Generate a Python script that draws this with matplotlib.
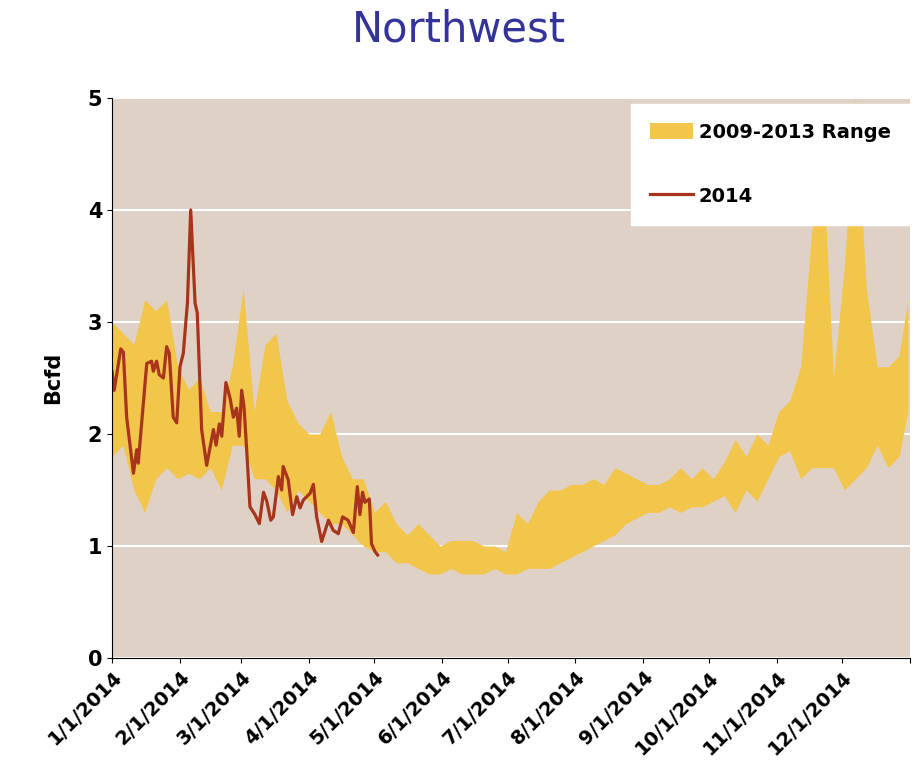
import numpy as np
import pandas as pd
import matplotlib
matplotlib.use('Agg')
import matplotlib.pyplot as plt
import matplotlib.dates as mdates

# 2009-2013 range, every 5 days from 1/1/2014
band_days = list(range(0, 365, 5)) + [364]
band_low = [1.8, 1.9, 1.5, 1.3, 1.6, 1.7, 1.6, 1.65, 1.6, 1.7, 1.5, 1.9, 1.9, 1.6, 1.6,
            1.5, 1.3, 1.5, 1.4, 1.3, 1.2, 1.2, 1.1, 1.0, 0.95, 0.95, 0.85, 0.85, 0.8,
            0.75, 0.75, 0.8, 0.75, 0.75, 0.75, 0.8, 0.75, 0.75, 0.8, 0.8, 0.8, 0.85,
            0.9, 0.95, 1.0, 1.05, 1.1, 1.2, 1.25, 1.3, 1.3, 1.35, 1.3, 1.35, 1.35, 1.4,
            1.45, 1.3, 1.5, 1.4, 1.6, 1.8, 1.85, 1.6, 1.7, 1.7, 1.7, 1.5, 1.6, 1.7,
            1.9, 1.7, 1.8, 2.2]
band_high = [3.0, 2.9, 2.8, 3.2, 3.1, 3.2, 2.6, 2.4, 2.5, 2.2, 2.2, 2.6, 3.3, 2.2, 2.8,
             2.9, 2.3, 2.1, 2.0, 2.0, 2.2, 1.8, 1.6, 1.6, 1.3, 1.4, 1.2, 1.1, 1.2,
             1.1, 1.0, 1.05, 1.05, 1.05, 1.0, 1.0, 0.95, 1.3, 1.2, 1.4, 1.5, 1.5,
             1.55, 1.55, 1.6, 1.55, 1.7, 1.65, 1.6, 1.55, 1.55, 1.6, 1.7, 1.6, 1.7, 1.6,
             1.75, 1.95, 1.8, 2.0, 1.9, 2.2, 2.3, 2.6, 3.8, 4.5, 2.5, 3.5, 5.0, 3.3,
             2.6, 2.6, 2.7, 3.2]

# 2014 daily flow
line_days = [0, 1, 4, 5.2, 6.7, 9.8, 11.3, 12, 15.9, 18.1, 18.9, 20.4, 21.6, 23.5, 25,
             26.2, 28, 29.6, 31.1, 32.6, 34.5, 36, 38, 39, 41, 43.3, 46.4, 47.6, 49.1,
             50.2, 52.1, 54, 55.5, 57, 58.2, 59.3, 60.4, 61.6, 63.1, 65.4, 67.4, 69.3,
             70.8, 72.6, 73.8, 76.1, 77.6, 78.3, 80.6, 82.6, 84.5, 86, 87.5, 89, 90.6,
             92.1, 93.6, 95.9, 99, 101.2, 103.5, 105.5, 108, 110.4, 112.2, 113.4,
             114.6, 115.7, 117.7, 118.7, 120.3, 121.5]
line_vals = [2.56, 2.39, 2.76, 2.73, 2.15, 1.65, 1.86, 1.74, 2.63, 2.65, 2.56, 2.65, 2.53,
             2.5, 2.78, 2.72, 2.15, 2.1, 2.6, 2.72, 3.17, 4.0, 3.17, 3.08, 2.04, 1.72,
             2.04, 1.9, 2.09, 1.98, 2.46, 2.32, 2.15, 2.23, 1.98, 2.39, 2.24, 1.86, 1.35,
             1.28, 1.2, 1.48, 1.4, 1.23, 1.26, 1.62, 1.5, 1.71, 1.59, 1.28, 1.44, 1.34,
             1.41, 1.44, 1.47, 1.55, 1.26, 1.04, 1.23, 1.14, 1.11, 1.26, 1.23, 1.12,
             1.53, 1.28, 1.48, 1.39, 1.42, 1.02, 0.95, 0.92]

start = pd.Timestamp('2014-01-01')
band_x = start + pd.to_timedelta(band_days, unit='D')
line_x = start + pd.to_timedelta(line_days, unit='D')

fig = plt.figure(figsize=(9.18, 7.76), dpi=100)
ax = fig.add_axes([112/918, 118/776, 798/918, 560/776])
ax.set_facecolor('#e0d1c6')
ax.fill_between(band_x, band_low, band_high, color='#f2c54b', lw=0, label='2009-2013 Range')
ax.plot(line_x, line_vals, color='#a8341c', lw=2.3, label='2014')

ax.set_ylim(0, 5)
ax.set_xlim(start, pd.Timestamp('2015-01-01'))
ax.yaxis.grid(True, color='white', lw=1.5)
ax.set_axisbelow(True)
for s in ['top', 'right']:
    ax.spines[s].set_visible(False)
ax.set_xticks(pd.date_range(start, periods=13, freq='MS'))
ax.set_xticklabels([d.strftime('%-m/1/%Y') for d in pd.date_range(start, periods=12, freq='MS')] + [''])
plt.setp(ax.get_xticklabels(), rotation=45, ha='right', rotation_mode='anchor',
         fontsize=14, fontweight='bold')
plt.setp(ax.get_yticklabels(), fontsize=15, fontweight='bold')
ax.set_ylabel('Bcfd', fontsize=15, fontweight='bold', labelpad=18)

leg = ax.legend(loc='upper right', bbox_to_anchor=(1.0, 0.99), frameon=True, fancybox=False,
                prop={'weight': 'bold', 'size': 14}, labelspacing=2.3, borderpad=1.0,
                handlelength=2.2, handletextpad=0.3, handleheight=0.9, borderaxespad=0)
leg.get_frame().set_edgecolor('white')
leg.get_frame().set_facecolor('white')
leg.get_frame().set_alpha(1)

fig.text(0.5, 0.962, 'Northwest', ha='center', va='center', fontsize=30, color='#333399')

fig.savefig('out.png', dpi=100)
